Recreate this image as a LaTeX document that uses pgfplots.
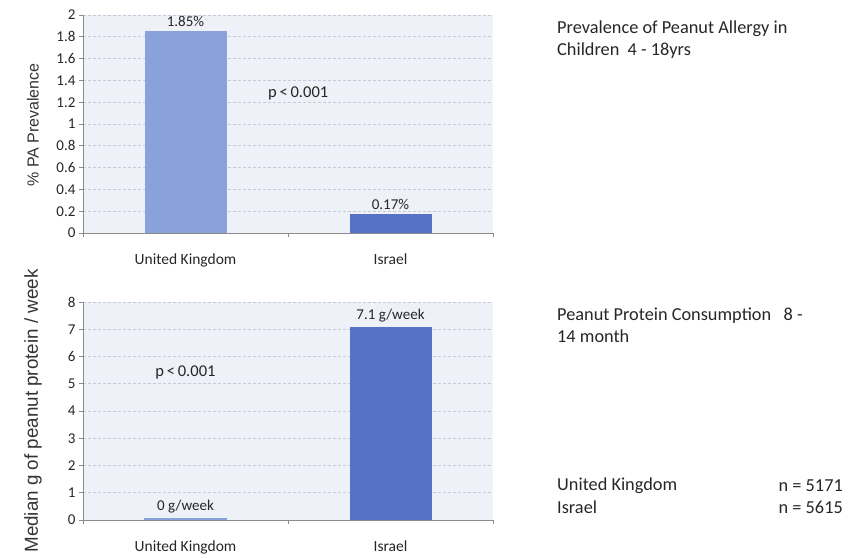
\documentclass[border=0pt]{standalone}
\usepackage{fontspec}
\setmainfont{Carlito}
\newfontfamily\arialf{Liberation Sans}
\usepackage{pgfplots}
\pgfplotsset{compat=1.18}
\definecolor{bgc}{HTML}{EEF1F8}
\definecolor{gridc}{HTML}{C3CAD8}
\definecolor{barA}{HTML}{8AA2DA}
\definecolor{barB}{HTML}{5572C6}
\definecolor{axc}{HTML}{8C8C8C}
\begin{document}
\begin{tikzpicture}
\path (0pt,0pt) rectangle (852pt,555pt);
\pgfplotsset{
 myax/.style={scale only axis, width=410pt, height=218pt, anchor=south west,
  xmin=-0.5, xmax=1.5, ymin=0,
  ybar, bar width=0.4, bar shift=0pt,
  axis background/.style={fill=bgc},
  axis x line*=bottom, axis y line*=left,
  axis line style={axc, line width=0.8pt},
  ymajorgrids, grid style={gridc, dash pattern=on 3pt off 2pt, line width=0.6pt},
  xtick={-0.5,0.5,1.5}, xticklabels={},
  extra x ticks={0,1}, extra x tick labels={United Kingdom, Israel},
  extra x tick style={major tick length=0pt, grid=none},
  tick align=outside, major tick length=4pt,
  tick style={axc, line width=0.6pt},
  ticklabel style={font=\fontsize{15}{17}\selectfont, text=black!85},
  xticklabel style={yshift=-17pt, font=\fontsize{15.5}{17}\selectfont},
  /pgf/number format/assume math mode=true,
  nodes near coords, point meta=explicit symbolic,
  every node near coord/.append style={font=\fontsize{15}{17}\selectfont, text=black!85, yshift=1pt},
 }
}
% top chart
\begin{axis}[myax, at={(83pt,322pt)}, ymax=2, ytick distance=0.2]
\addplot[fill=barA, draw=none] table[meta=lab] {
x y lab
0 1.85 1.85\%
};
\addplot[fill=barB, draw=none] table[meta=lab] {
x y lab
1 0.17 0.17\%
};
\node[font=\fontsize{16.5}{18}\selectfont, text=black!85] at (axis cs:0.55,1.28) {p\,{<}\,0.001};
\end{axis}
% bottom chart
\begin{axis}[myax, at={(83pt,35pt)}, ymax=8, ytick distance=1]
\addplot[fill=barA, draw=none] table[meta=lab] {
x y lab
0 0.08 {0 g/week}
};
\addplot[fill=barB, draw=none] table[meta=lab] {
x y lab
1 7.1 {7.1 g/week}
};
\node[font=\fontsize{16.5}{18}\selectfont, text=black!85] at (axis cs:0.0,5.42) {p\,{<}\,0.001};
\end{axis}
% y labels
\node[rotate=90, font=\arialf\fontsize{16}{18}\selectfont, text=black!80] at (33pt,430pt) {\% PA Prevalence};
\node[rotate=90, font=\arialf\fontsize{18.8}{20}\selectfont, text=black!80] at (33pt,144pt) {Median g of peanut protein / week};
% right texts
\node[anchor=north west, align=left, font=\fontsize{18.3}{22}\selectfont, text=black!85, inner sep=0pt] at (557pt,534pt) {Prevalence of Peanut Allergy in\\Children\ \ 4 - 18yrs};
\node[anchor=north west, align=left, font=\fontsize{18.3}{22}\selectfont, text=black!85, inner sep=0pt] at (557pt,247pt) {Peanut Protein Consumption\ \ \ 8 -\\14 month};
\node[anchor=west, font=\fontsize{18.3}{22}\selectfont, text=black!85, inner sep=0pt] at (557pt,69pt) {United Kingdom};
\node[anchor=west, font=\fontsize{18.3}{22}\selectfont, text=black!85, inner sep=0pt] at (557pt,48pt) {Israel};
\node[anchor=east, font=\fontsize{18.3}{22}\selectfont, text=black!85, inner sep=0pt] at (843pt,69pt) {n = 5171};
\node[anchor=east, font=\fontsize{18.3}{22}\selectfont, text=black!85, inner sep=0pt] at (843pt,48pt) {n = 5615};
\end{tikzpicture}
\end{document}
